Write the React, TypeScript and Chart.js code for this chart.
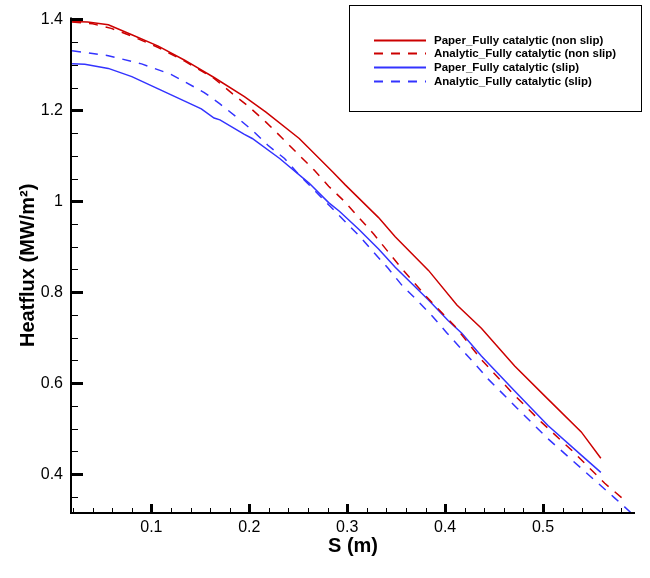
import React, { useEffect, useRef } from 'react';
import { Chart, registerables } from 'chart.js';

Chart.register(...registerables);

// ---- data ----
const paperNonSlipS = [0.019, 0.035, 0.056, 0.080, 0.107, 0.134, 0.164, 0.195, 0.217, 0.251, 0.285, 0.298, 0.332, 0.349, 0.383, 0.412, 0.437, 0.471, 0.505, 0.539, 0.559];
const paperNonSlipQ = [1.395, 1.394, 1.388, 1.366, 1.341, 1.310, 1.272, 1.230, 1.196, 1.138, 1.065, 1.036, 0.964, 0.922, 0.848, 0.772, 0.721, 0.638, 0.565, 0.493, 0.435];

const analyticNonSlipS = [0.019, 0.040, 0.059, 0.080, 0.107, 0.134, 0.164, 0.183, 0.200, 0.217, 0.234, 0.251, 0.266, 0.281, 0.297, 0.312, 0.327, 0.353, 0.381, 0.410, 0.437, 0.468, 0.498, 0.531, 0.563, 0.586];
const analyticNonSlipQ = [1.394, 1.390, 1.380, 1.363, 1.338, 1.308, 1.270, 1.236, 1.207, 1.174, 1.138, 1.101, 1.069, 1.033, 1.000, 0.964, 0.928, 0.859, 0.790, 0.725, 0.652, 0.580, 0.515, 0.449, 0.380, 0.338];

const paperSlipS = [0.019, 0.032, 0.056, 0.080, 0.107, 0.134, 0.151, 0.164, 0.170, 0.195, 0.203, 0.231, 0.261, 0.281, 0.292, 0.312, 0.332, 0.349, 0.383, 0.403, 0.417, 0.437, 0.471, 0.505, 0.539, 0.559];
const paperSlipQ = [1.302, 1.301, 1.292, 1.274, 1.247, 1.220, 1.203, 1.183, 1.179, 1.147, 1.138, 1.094, 1.040, 0.997, 0.978, 0.938, 0.895, 0.855, 0.783, 0.738, 0.710, 0.660, 0.583, 0.507, 0.442, 0.404];

const analyticSlipS = [0.019, 0.056, 0.090, 0.120, 0.154, 0.170, 0.187, 0.203, 0.219, 0.236, 0.251, 0.282, 0.314, 0.327, 0.342, 0.356, 0.371, 0.387, 0.402, 0.417, 0.431, 0.444, 0.474, 0.505, 0.539, 0.573, 0.590];
const analyticSlipQ = [1.331, 1.320, 1.302, 1.279, 1.239, 1.214, 1.185, 1.156, 1.123, 1.094, 1.058, 0.990, 0.920, 0.888, 0.852, 0.815, 0.783, 0.747, 0.710, 0.674, 0.641, 0.609, 0.544, 0.478, 0.413, 0.348, 0.315];

const seriesLabels = [
  'Paper_Fully catalytic (non slip)',
  'Analytic_Fully catalytic (non slip)',
  'Paper_Fully catalytic (slip)',
  'Analytic_Fully catalytic (slip)',
];

// ---- axes ----
const xMin = 0.0179;
const xMax = 0.5939;
const yMin = 0.3147;
const yMax = 1.4037;
const xMajorTicks = [0.1, 0.2, 0.3, 0.4, 0.5];
const xMinorTicks = [0.02, 0.04, 0.06, 0.08, 0.12, 0.14, 0.16, 0.18, 0.22, 0.24, 0.26, 0.28, 0.32, 0.34, 0.36, 0.38, 0.42, 0.44, 0.46, 0.48, 0.52, 0.54, 0.56, 0.58];
const yMajorTicks = [0.4, 0.6, 0.8, 1.0, 1.2, 1.4];
const yMinorTicks = [0.35, 0.45, 0.5, 0.55, 0.65, 0.7, 0.75, 0.85, 0.9, 0.95, 1.05, 1.1, 1.15, 1.25, 1.3, 1.35];
const xTitle = 'S (m)';
const yTitle = 'Heatflux (MW/m²)';

const RED = '#cc0000';
const BLUE = '#3333ff';
const FONT = "'Liberation Sans', Arial, Helvetica, sans-serif";

const toPoints = (s: number[], q: number[]) => s.map((v, i) => ({ x: v, y: q[i] }));
const fmt = (v: number) => String(Number(Number(v).toFixed(2)));

const tecplotAxes = {
  id: 'tecplotAxes',
  afterDatasetsDraw(chart: any) {
    const { ctx, chartArea } = chart;
    const xs = chart.scales.x;
    const ys = chart.scales.y;
    const left = chartArea.left;
    const bottom = chartArea.bottom;
    ctx.save();
    ctx.strokeStyle = '#000';
    ctx.lineCap = 'butt';
    ctx.lineWidth = 1;
    ctx.beginPath();
    xMinorTicks.forEach((v) => {
      const p = Math.round(xs.getPixelForValue(v)) + 0.5;
      ctx.moveTo(p, bottom);
      ctx.lineTo(p, bottom - 5);
    });
    yMinorTicks.forEach((v) => {
      const p = Math.round(ys.getPixelForValue(v)) + 0.5;
      ctx.moveTo(left, p);
      ctx.lineTo(left + 7, p);
    });
    ctx.stroke();
    ctx.lineWidth = 3;
    ctx.beginPath();
    xMajorTicks.forEach((v) => {
      const p = Math.round(xs.getPixelForValue(v)) + 0.5;
      ctx.moveTo(p, bottom);
      ctx.lineTo(p, bottom - 9);
    });
    yMajorTicks.forEach((v) => {
      const p = Math.round(ys.getPixelForValue(v)) + 0.5;
      ctx.moveTo(left, p);
      ctx.lineTo(left + 12, p);
    });
    ctx.stroke();
    ctx.lineWidth = 2;
    ctx.beginPath();
    ctx.moveTo(left, chartArea.top);
    ctx.lineTo(left, bottom);
    ctx.lineTo(chartArea.right, bottom);
    ctx.stroke();
    ctx.restore();
  },
};

const boxLegend = {
  id: 'boxLegend',
  afterDraw(chart: any) {
    const { ctx } = chart;
    ctx.save();
    ctx.strokeStyle = '#000';
    ctx.lineWidth = 1;
    ctx.strokeRect(349.5, 5.5, 292, 106);
    ctx.font = `bold 11.5px ${FONT}`;
    ctx.textBaseline = 'middle';
    ctx.textAlign = 'left';
    chart.data.datasets.forEach((ds: any, i: number) => {
      const yy = Math.round(39.5 + i * 13.9) + 0.5;
      ctx.strokeStyle = ds.borderColor;
      ctx.lineWidth = 2;
      ctx.setLineDash(ds.borderDash || []);
      ctx.beginPath();
      ctx.moveTo(374, yy);
      ctx.lineTo(426, yy);
      ctx.stroke();
      ctx.setLineDash([]);
      ctx.fillStyle = '#000';
      ctx.fillText(ds.label, 434, yy);
    });
    ctx.restore();
  },
};

export default function App() {
  const canvasRef = useRef<HTMLCanvasElement | null>(null);

  useEffect(() => {
    if (!canvasRef.current) return;
    Chart.defaults.font.family = FONT;
    const chart = new Chart(canvasRef.current, {
      type: 'line',
      data: {
        datasets: [
          { label: seriesLabels[0], data: toPoints(paperNonSlipS, paperNonSlipQ), borderColor: RED, borderWidth: 1.5 },
          { label: seriesLabels[1], data: toPoints(analyticNonSlipS, analyticNonSlipQ), borderColor: RED, borderWidth: 1.5, borderDash: [9, 8] },
          { label: seriesLabels[2], data: toPoints(paperSlipS, paperSlipQ), borderColor: BLUE, borderWidth: 1.5 },
          { label: seriesLabels[3], data: toPoints(analyticSlipS, analyticSlipQ), borderColor: BLUE, borderWidth: 1.5, borderDash: [9, 8] },
        ],
      },
      options: {
        animation: false,
        responsive: false,
        devicePixelRatio: 1,
        parsing: true,
        layout: { padding: { top: 11, right: 15, left: 0, bottom: 0 } },
        elements: { point: { radius: 0, hoverRadius: 0 }, line: { tension: 0, fill: false } },
        plugins: { legend: { display: false }, tooltip: { enabled: false } },
        scales: {
          x: {
            type: 'linear',
            min: xMin,
            max: xMax,
            border: { display: false },
            grid: { display: false, drawTicks: false },
            afterBuildTicks: (scale: any) => {
              scale.ticks = xMajorTicks.map((v) => ({ value: v }));
            },
            afterFit: (scale: any) => {
              scale.height = 65;
            },
            ticks: {
              autoSkip: false,
              maxRotation: 0,
              padding: 5,
              color: '#000',
              font: { size: 16, family: FONT },
              callback: (v: any) => fmt(v),
            },
            title: {
              display: true,
              text: xTitle,
              color: '#000',
              font: { size: 20, weight: 'bold', family: FONT },
              padding: { top: 0, bottom: 20 },
            },
          },
          y: {
            type: 'linear',
            min: yMin,
            max: yMax,
            border: { display: false },
            grid: { display: false, drawTicks: false },
            afterBuildTicks: (scale: any) => {
              scale.ticks = yMajorTicks.map((v) => ({ value: v }));
            },
            afterFit: (scale: any) => {
              scale.width = 71;
            },
            ticks: {
              autoSkip: false,
              padding: 8,
              color: '#000',
              font: { size: 16, family: FONT },
              callback: (v: any) => fmt(v),
            },
            title: {
              display: true,
              text: yTitle,
              color: '#000',
              font: { size: 20, weight: 'bold', family: FONT },
              padding: { top: 16, bottom: 0 },
            },
          },
        },
      },
      plugins: [tecplotAxes, boxLegend],
    });
    return () => chart.destroy();
  }, []);

  return (
    <div style={{ position: 'absolute', left: 0, top: 0, width: 650, height: 578, background: '#fff' }}>
      <canvas ref={canvasRef} width={650} height={578} style={{ display: 'block', width: 650, height: 578 }} />
    </div>
  );
}
